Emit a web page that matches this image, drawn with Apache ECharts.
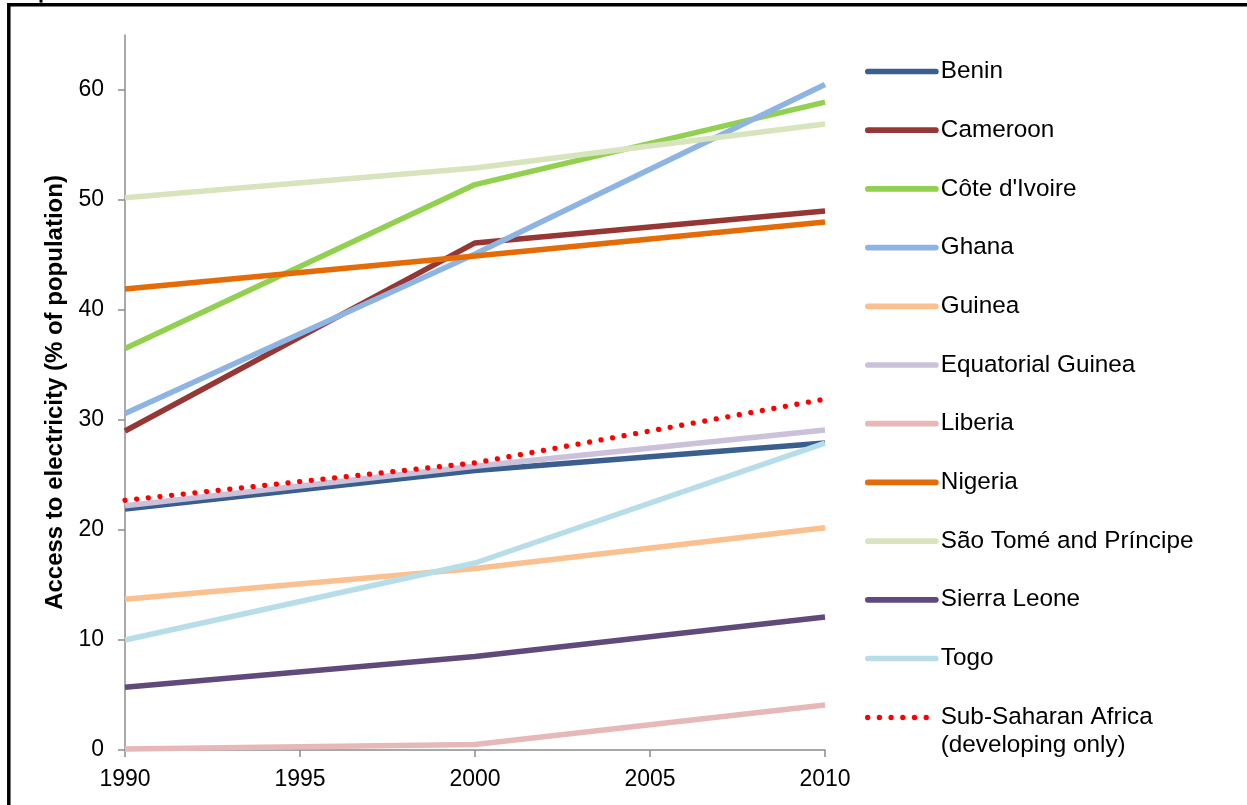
<!DOCTYPE html>
<html>
<head>
<meta charset="utf-8">
<script src="https://cdn.jsdelivr.net/npm/echarts@6/dist/echarts.min.js"></script>
<style>
html,body{margin:0;padding:0;background:#fff;}
#chart{width:1247px;height:805px;}
</style>
</head>
<body>
<div id="chart"></div>
<script>
const years = [1990, 2000, 2010];
const seriesNames = ['Benin', 'Cameroon', "Côte d'Ivoire", 'Ghana', 'Guinea', 'Equatorial Guinea', 'Liberia', 'Nigeria', 'São Tomé and Príncipe', 'Sierra Leone', 'Togo', 'Sub-Saharan Africa (developing only)'];
const benin = [21.9, 25.4, 27.9];
const cameroon = [29.0, 46.1, 49.0];
const coteDIvoire = [36.5, 51.4, 58.9];
const ghana = [30.6, 45.1, 60.5];
const guinea = [13.7, 16.5, 20.2];
const equatorialGuinea = [22.2, 25.8, 29.1];
const liberia = [0.1, 0.5, 4.1];
const nigeria = [41.9, 44.9, 48.0];
const saoTome = [50.2, 52.9, 56.9];
const sierraLeone = [5.7, 8.5, 12.1];
const togo = [10.0, 17.0, 27.9];
const subSaharan = [22.7, 26.1, 31.9];
const yTicks = [0, 10, 20, 30, 40, 50, 60];
const xTicks = [1990, 1995, 2000, 2005, 2010];

const values = [benin, cameroon, coteDIvoire, ghana, guinea, equatorialGuinea, liberia, nigeria, saoTome, sierraLeone, togo, subSaharan];
const colors = ['#3A5F8E', '#953735', '#92D050', '#8DB4E2', '#FAC090', '#CCC1DA', '#E6B9B8', '#E36C09', '#D7E4BD', '#604A7B', '#B7DEE8', '#FF0000'];

const FONT = 'Liberation Sans, Arial, sans-serif';

const series = seriesNames.map((name, i) => {
  const dotted = i === seriesNames.length - 1;
  return {
    name: name,
    type: 'line',
    data: years.map((y, j) => [y, values[i][j]]),
    symbol: 'none',
    showSymbol: false,
    silent: true,
    z: 2 + i,
    lineStyle: {
      color: colors[i],
      width: dotted ? 5.3 : 5.5,
      type: dotted ? [0.01, 11.7] : 'solid',
      cap: dotted ? 'round' : 'butt'
    },
    itemStyle: { color: colors[i] }
  };
});

const chart = echarts.init(document.getElementById('chart'), null, { renderer: 'canvas' });
chart.setOption({
  backgroundColor: '#ffffff',
  animation: false,
  textStyle: { fontFamily: FONT },
  grid: { left: 125, right: 422, top: 35, bottom: 55, containLabel: false },
  xAxis: {
    type: 'value',
    min: 1990, max: 2010, interval: 5,
    axisLine: { show: true, onZero: false, lineStyle: { color: '#8C8C8C', width: 1.5 } },
    axisTick: { show: true, length: 7, lineStyle: { color: '#8C8C8C', width: 1.5 } },
    axisLabel: { color: '#000', fontSize: 23, fontFamily: FONT, margin: 18, formatter: v => String(v) },
    splitLine: { show: false }
  },
  yAxis: {
    type: 'value',
    min: 0, max: 65, interval: 10,
    name: 'Access to electricity (% of population)',
    nameLocation: 'middle',
    nameGap: 53,
    nameTextStyle: { color: '#000', fontSize: 24, fontWeight: 'bold', fontFamily: FONT },
    axisLine: { show: true, lineStyle: { color: '#8C8C8C', width: 1.5 } },
    axisTick: { show: true, length: 7, customValues: yTicks, lineStyle: { color: '#8C8C8C', width: 1.5 } },
    axisLabel: { color: '#000', fontSize: 23, fontFamily: FONT, margin: 21, customValues: yTicks },
    splitLine: { show: false }
  },
  legend: [
    {
      data: seriesNames.slice(0, 11),
      orient: 'vertical',
      left: 865, top: 57.5,
      padding: 0,
      itemWidth: 68, itemHeight: 28, itemGap: 30.7,
      selectedMode: false,
      itemStyle: { opacity: 0 },
      lineStyle: { width: 5.7, cap: 'round' },
      textStyle: { color: '#000', fontSize: 24.3, fontFamily: FONT, lineHeight: 28 }
    },
    {
      data: [seriesNames[11]],
      orient: 'vertical',
      left: 865, top: 675.5,
      padding: 0,
      itemWidth: 68, itemHeight: 28,
      selectedMode: false,
      itemStyle: { opacity: 0 },
      lineStyle: { width: 5.3, cap: 'round' },
      formatter: () => '\nSub-Saharan Africa\n(developing only)',
      textStyle: { color: '#000', fontSize: 24.3, fontFamily: FONT, lineHeight: 28 }
    }
  ],
  graphic: [
    { type: 'rect', shape: { x: 8.8, y: 4.8, width: 1400, height: 1000 }, style: { fill: null, stroke: '#000', lineWidth: 3.5 }, silent: true },
    { type: 'rect', shape: { x: 39.5, y: 0, width: 3, height: 2.7 }, style: { fill: '#000' }, silent: true }
  ],
  series: series
});
</script>
</body>
</html>
